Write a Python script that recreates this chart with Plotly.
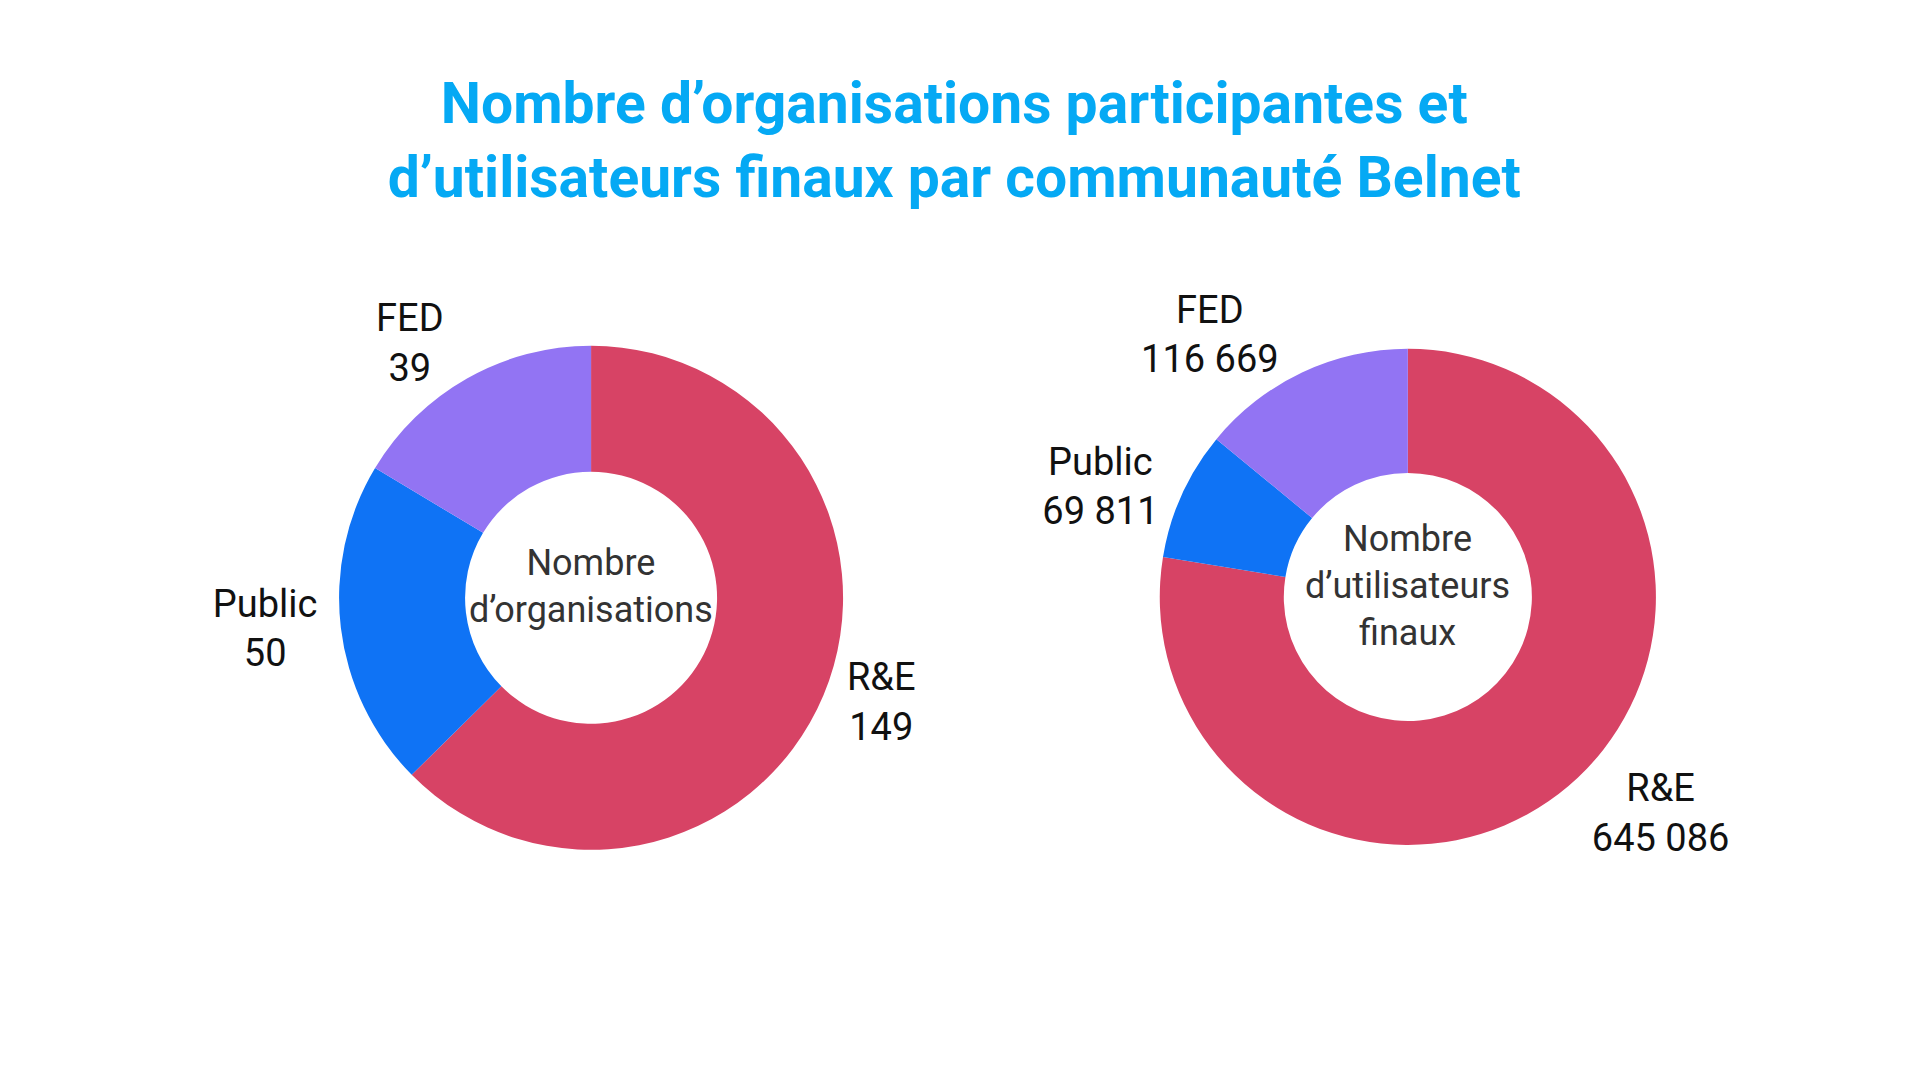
import plotly.graph_objects as go

categories = ["R&E", "Public", "FED"]
organisations = [149, 50, 39]
utilisateurs = [645086, 69811, 116669]
colors = ["#D74365", "#0F73F5", "#9274F3"]
title_text = "Nombre d’organisations participantes et<br>d’utilisateurs finaux par communauté Belnet"
center_left = "Nombre<br>d’organisations"
center_right = "Nombre<br>d’utilisateurs<br>finaux"

fig = go.Figure()
common = dict(
    hole=0.5, sort=False, direction="clockwise", rotation=0,
    marker=dict(colors=colors, line=dict(width=0)),
    textposition="outside", texttemplate="%{label}<br>%{value:,}",
    textfont=dict(family="Roboto", size=38, color="#111111"),
    showlegend=False, hoverinfo="label+value",
)
fig.add_trace(go.Pie(labels=categories, values=organisations,
                     domain=dict(x=[0.1766, 0.4391], y=[0.213, 0.680]), **common))
fig.add_trace(go.Pie(labels=categories, values=utilisateurs,
                     domain=dict(x=[0.604, 0.8625], y=[0.2176, 0.677]), **common))

fig.add_annotation(x=0.3078, y=0.457, xref="paper", yref="paper", text=center_left,
                   xanchor="center", yanchor="middle",
                   showarrow=False, font=dict(family="Roboto", size=36, color="#333333"))
fig.add_annotation(x=0.7333, y=0.4575, xref="paper", yref="paper", text=center_right,
                   xanchor="center", yanchor="middle",
                   showarrow=False, font=dict(family="Roboto", size=36, color="#333333"))

fig.update_layout(
    width=1920, height=1080,
    margin=dict(l=0, r=0, t=0, b=0),
    paper_bgcolor="white", plot_bgcolor="white",
    separators=". ",
    title=dict(text=title_text, x=0.497, y=0.886, xanchor="center", yanchor="middle",
               font=dict(family="Roboto", size=57, color="#05A9F4", weight="bold")),
)
fig.write_html("out.html")
